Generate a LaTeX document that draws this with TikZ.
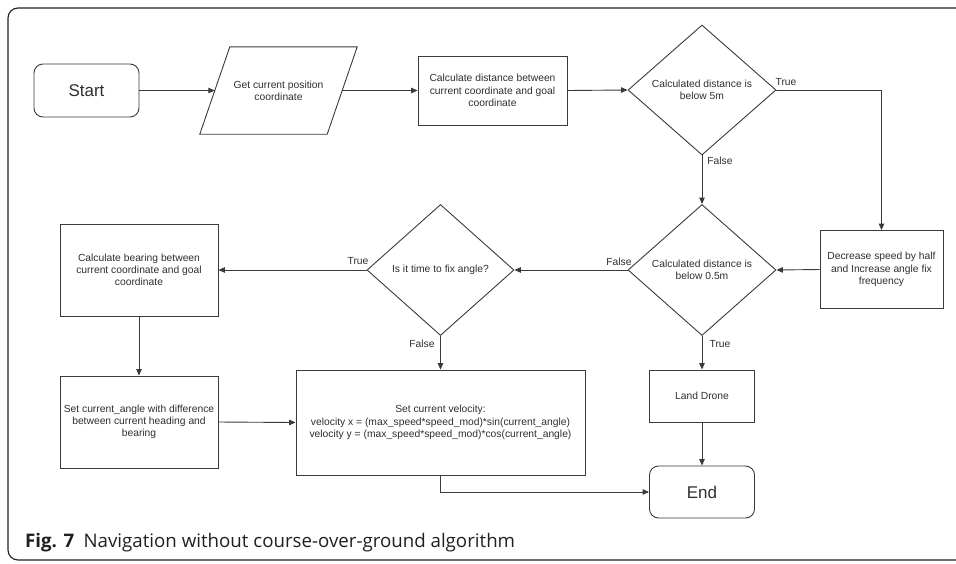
\documentclass[tikz,border=0pt]{standalone}
\usepackage{fontspec}
\setmainfont{Liberation Sans}
\newfontfamily\capfont{Open Sans}
\usetikzlibrary{arrows.meta,shapes.geometric}
\definecolor{ln}{HTML}{3A3A3A}
\definecolor{txt}{HTML}{2E2E2E}
\definecolor{capc}{HTML}{231F20}

\begin{document}
\begin{tikzpicture}[x=1pt,y=-1pt,
  every node/.style={font=\fontsize{10.3}{12.2}\selectfont, text=txt},
  proc/.style={draw=ln, line width=0.9pt, rectangle, align=center, inner sep=1pt},
  term/.style={proc, rounded corners=9pt, font=\fontsize{17}{20}\selectfont},
  dec/.style={draw=ln, line width=0.9pt, diamond, align=center, inner sep=0pt,
    minimum width=148pt, minimum height=130pt},
  arr/.style={draw=ln, line width=0.9pt, -{Triangle[length=6.5pt,width=5.5pt]}},
  lbl/.style={inner sep=0pt}]

\useasboundingbox (0,0) rectangle (956,563);
% outer frame
\draw[capc, line width=1.1pt, rounded corners=10pt] (8,8) rectangle (975,560);

% nodes
\node[term, minimum width=105pt, minimum height=53pt] (start) at (86.5,90.5) {Start};
\node[align=center, inner sep=0pt, minimum width=127pt, minimum height=87pt] (get) at (278.5,90.5)
  {Get current position\\coordinate};
\draw[ln, line width=0.9pt] ([xshift=-15pt]get.south west) -- ([xshift=15pt]get.north west)
  -- ([xshift=15pt]get.north east) -- ([xshift=-15pt]get.south east) -- cycle;
\node[proc, minimum width=149pt, minimum height=69pt] (dist) at (492.5,90.5)
  {Calculate distance between\\current coordinate and goal\\coordinate};
\node[dec] (d1) at (702,90) {Calculated distance is\\below 5m};
\node[dec, minimum height=131pt] (d2) at (702,270) {Calculated distance is\\below 0.5m};
\node[proc, minimum width=123pt, minimum height=78pt] (slow) at (881.5,269.5)
  {Decrease speed by half\\and Increase angle fix\\frequency};
\node[dec, minimum width=147pt, minimum height=131pt] (d3) at (440.5,270) {Is it time to fix angle?};
\node[proc, minimum width=158pt, minimum height=92pt] (bear) at (139,270)
  {Calculate bearing between\\current coordinate and goal\\coordinate};
\node[proc, minimum width=158pt, minimum height=92pt] (ang) at (139,422)
  {Set current\_angle with difference\\between current heading and\\bearing};
\node[proc, minimum width=289pt, minimum height=105pt] (vel) at (440.5,422.5)
  {Set current velocity:\\velocity x = (max\_speed*speed\_mod)*sin(current\_angle)\\velocity y = (max\_speed*speed\_mod)*cos(current\_angle)};
\node[proc, minimum width=105pt, minimum height=52pt] (land) at (702,396) {Land Drone};
\node[term, minimum width=105pt, minimum height=52pt] (endn) at (702,492) {End};

% connectors
\draw[arr] (start.east) -- (get.west);
\draw[arr] (get.east) -- (dist.west);
\draw[arr] (dist.east) -- (d1.west);
\draw[arr] (d1.east) -- (slow.north |- d1.east) -- (slow.north);
\draw[arr] (d1.south) -- (d2.north);
\draw[arr] (slow.west) -- (d2.east);
\draw[arr] (d2.west) -- (d3.east);
\draw[arr] (d2.south) -- (land.north);
\draw[arr] (d3.west) -- (bear.east);
\draw[arr] (d3.south) -- (vel.north);
\draw[arr] (bear.south) -- (ang.north);
\draw[arr] (ang.east) -- (vel.west);
\draw[arr] (land.south) -- (endn.north);
\draw[arr] (vel.south) -- (vel.south |- endn.west) -- (endn.west);

% branch labels
\node[lbl] (t1) at (786,82) {True};
\node[lbl] (f1) at (720,161) {False};
\node[lbl] (f2) at (619,262) {False};
\node[lbl] (t2) at (720,344) {True};
\node[lbl] (t3) at (358,261) {True};
\node[lbl] (f3) at (422,344) {False};

% caption
\node[anchor=base west, inner sep=0pt, text=capc, font=\capfont\fontsize{18.7}{22}\selectfont] (cap) at (25,547)
  {\textbf{Fig. 7}\hspace{0.5em}Navigation without course-over-ground algorithm};
\end{tikzpicture}
\end{document}
